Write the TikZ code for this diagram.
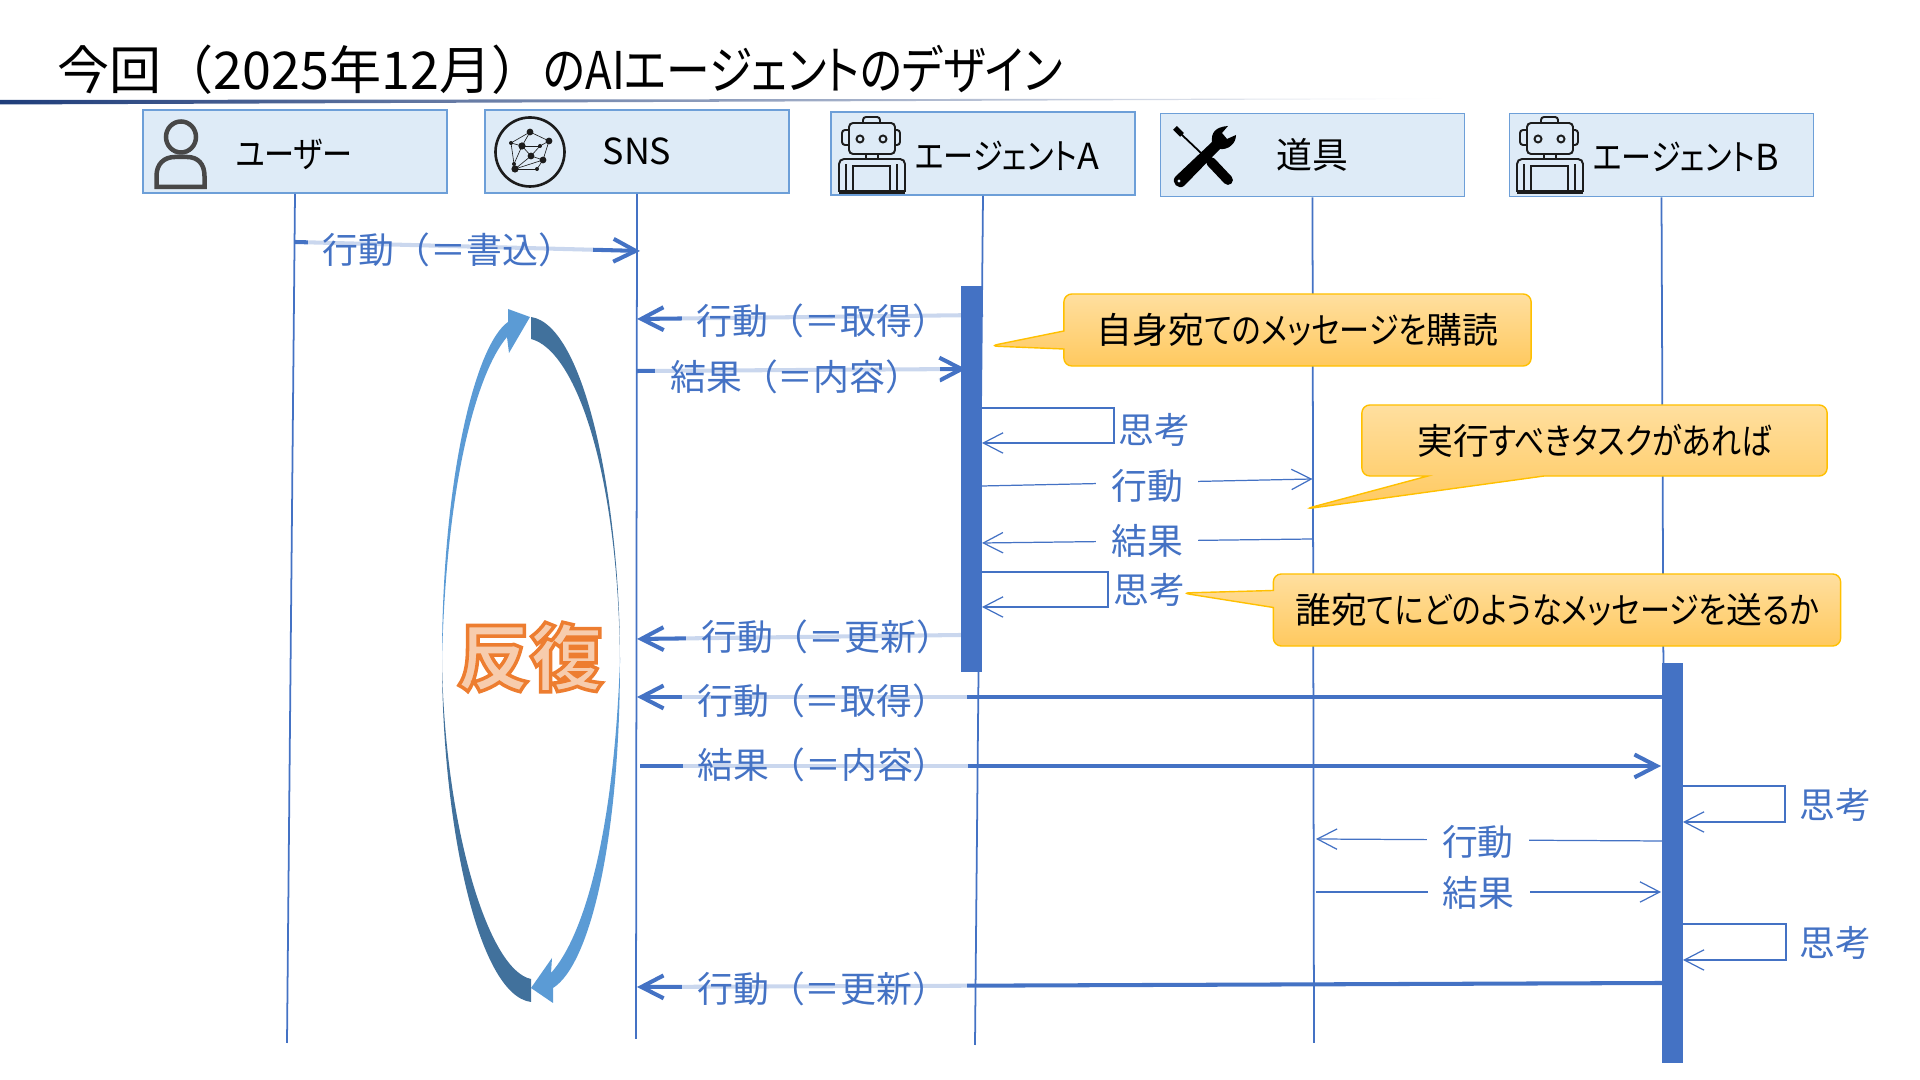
\documentclass[tikz,border=0pt]{standalone}
\usepackage{fontspec}
\usetikzlibrary{arrows.meta,shapes.callouts}
\setmainfont{Noto Sans CJK JP}
\newfontfamily\kanafont{Noto Sans CJK JP}[RawFeature={+palt}, FakeStretch=0.84]
\newcommand{\kn}[1]{{\kanafont #1}}
\definecolor{msgblue}{HTML}{4472C4}
\definecolor{boxfill}{HTML}{DEEBF7}
\definecolor{boxedge}{HTML}{6D9FD8}
\definecolor{iconink}{HTML}{1C1C1C}
\definecolor{loopfrom}{HTML}{5B9BD5}
\definecolor{loopback}{HTML}{41719C}
\definecolor{ruleblue}{HTML}{1F3D7A}
\definecolor{noteA}{HTML}{FFDF9F}
\definecolor{noteB}{HTML}{FFC95F}
\definecolor{noteline}{HTML}{FFC000}
\newcommand{\boxfont}{\fontsize{10.2pt}{12pt}\selectfont}
\newcommand{\outlined}[1]{\special{pdf:code q 2 Tr 1.0 w 0.93 0.49 0.19 RG 0.97 0.80 0.68 rg}#1\special{pdf:code Q}}
\tikzset{
  head/.style={draw=boxedge, fill=boxfill, line width=0.5pt, minimum width=3.04cm, minimum height=0.83cm, inner sep=0pt, font=\boxfont},
  headtxt/.style={inner sep=0pt, font=\boxfont},
  lifeline/.style={draw=msgblue, line width=0.5pt},
  actbar/.style={fill=msgblue, minimum width=0.21cm, inner sep=0pt},
  msg/.style={draw=msgblue, line width=1.15pt, -{Straight Barb[length=6.3pt,width=6.5pt]}},
  thinmsg/.style={draw=msgblue, line width=0.35pt, -{Straight Barb[length=5.6pt,width=5.8pt]}},
  selfmsg/.style={draw=msgblue, line width=0.5pt, -{Straight Barb[length=5.6pt,width=5.8pt,line width=0.35pt]}},
  msglbl/.style={fill=white, fill opacity=0.72, text opacity=1, text=msgblue, font=\boxfont, align=left, text width=2.55cm, inner xsep=0.15cm, inner ysep=0pt},
  gaplbl/.style={fill=white, text=msgblue, font=\boxfont, minimum width=1.02cm, inner xsep=0pt, inner ysep=0pt},
  steplbl/.style={text=msgblue, font=\boxfont, inner sep=0pt},
  note/.style={rectangle callout, top color=noteA, bottom color=noteB, draw=noteline, line width=0.4pt, rounded corners=0.08cm, inner sep=0pt, font=\boxfont},
  robot/.pic={
    \draw[iconink, line width=0.55pt, rounded corners=0.03cm] (31,11) -- (31,5) -- (48,5) -- (48,11);
    \draw[iconink, line width=0.55pt, rounded corners=0.04cm] (17,11) rectangle (63,42);
    \draw[iconink, line width=0.55pt, rounded corners=0.03cm] (17,18) -- (10,18) -- (10,33) -- (17,33);
    \draw[iconink, line width=0.55pt, rounded corners=0.03cm] (63,18) -- (68,18) -- (68,33) -- (63,33);
    \draw[iconink, line width=0.55pt] (28,27) circle (3.5) (51,27) circle (3.5);
    \draw[iconink, line width=0.55pt] (34,42) -- (34,47) (46,42) -- (46,47);
    \draw[iconink, line width=0.55pt, rounded corners=0.05cm] (7,80) -- (7,47) -- (73,47) -- (73,80);
    \draw[iconink, line width=0.55pt] (14,80) -- (14,52) (65,80) -- (65,52);
    \draw[iconink, line width=0.55pt] (21,80) -- (21,54) -- (58,54) -- (58,80);
    \draw[iconink, line width=0.9pt] (7,80) -- (73,80);
  },
  netball/.pic={
    \draw[iconink, line width=0.75pt] (40,40) circle (34.5);
    \foreach \nm/\px/\py in {a/40/20,b/59/29,c/53/48,d/47/57,e/25/57,f/24/52,g/21/31,h/32/34,i/50/34,j/41/44}
      \coordinate (\nm) at (\px,\py);
    \foreach \p/\q in {a/b,a/h,a/g,h/i,i/b,h/j,j/c,c/d,d/e,e/j,f/h,g/f,g/h,b/c,i/j,e/c}
      \draw[iconink, line width=0.18pt] (\p) -- (\q);
    \foreach \nm/\rr in {a/3.4,b/3.4,c/3.4,d/2,e/3.6,f/2,g/2,h/3.6,i/2,j/3.4}
      \fill[iconink] (\nm) circle (\rr);
  },
}
\begin{document}
\begin{tikzpicture}[x=0.01cm,y=-0.01cm]
\useasboundingbox (0,0) rectangle (1920,1080);
\node[anchor=west, inner sep=0pt, font=\fontsize{14.8pt}{16pt}\selectfont] (title) at (57,70) {今回（2025年12月）\kn{のAIエージェントのデザイン}};
\shade[left color=ruleblue, middle color=ruleblue!85!gray, right color=white] (0,100) -- (1445,98.5) -- (1445,99) -- (0,104.5) -- cycle;

\node[head] (user) at (295,151.5) {};
\node[head] (sns) at (637,151.5) {\raisebox{-1pt}{SNS}};
\node[head] (agentA) at (983,153.5) {};
\node[head] (tool) at (1312.5,155) {道具};
\node[head] (agentB) at (1661.5,155) {};
\node[headtxt] (userlbl) at (294,154) {\kn{ユーザー}};
\node[headtxt] (agentAlbl) at (1007,156) {\kn{エージェント}A};
\node[headtxt] (agentBlbl) at (1686,157) {\kn{エージェント}B};

\coordinate (userend) at (287,1043);
\coordinate (snsend) at (636,1039);
\coordinate (agentAend) at (975,1045);
\coordinate (toolend) at (1314,1043);
\coordinate (agentBend) at (1665,1050);
\draw[lifeline] (user.south) -- (userend);
\draw[lifeline] (sns.south) -- (snsend);
\draw[lifeline] (agentA.south) -- (agentAend);
\draw[lifeline] (tool.south) -- (toolend);
\draw[lifeline] (agentB.south) -- (agentBend);

% icons
\draw[gray!30!black!85, line width=1.28pt] (181,137) ellipse (15 and 15.5);
\draw[gray!30!black!85, line width=1.28pt] (156.5,187) -- (156.5,176) .. controls (156.5,164) and (164,157) .. (175,157) -- (187,157) .. controls (198,157) and (204.5,164) .. (204.5,176) -- (204.5,187) -- cycle;
\pic at (490,112) {netball};
\pic at (832,112) {robot};
\pic at (1510,112) {robot};
\begin{scope}[shift={(1165,118)}]
  \fill[black] (63,8) .. controls (50,9) and (46,15) .. (47,24) -- (10,59) .. controls (6,65) and (13,72) .. (19,68) -- (55,31) .. controls (63,32) and (71,26) .. (71,17) -- (62,21) -- (57,15) -- cycle;
  \fill[boxfill] (14,63) circle (1.7);
  \draw[black, line width=0.5pt] (16,16) -- (36,35);
  \draw[black, line width=1.5pt] (10,10) -- (17,17);
  \draw[black, line width=2.8pt, line cap=round] (46,44) -- (63,62);
\end{scope}

% repeat loop
\fill[loopfrom] (442,660) .. controls (442,480) and (475,345) .. (508,322) -- (508,309) -- (530,317) -- (509,353) -- (507,337) .. controls (475,375) and (446,490) .. (442,660) -- cycle;
\fill[loopback] (531,317) .. controls (585,325) and (620,500) .. (620,660) .. controls (618,470) and (575,350) .. (531,339) -- cycle;
\fill[loopfrom] (620,660) .. controls (620,840) and (590,965) .. (553,988) -- (553,1003) -- (531,988) -- (552,958) -- (551,973) .. controls (585,935) and (614,830) .. (620,660) -- cycle;
\fill[loopback] (531,1002) .. controls (477,995) and (442,820) .. (442,660) .. controls (444,820) and (487,970) .. (531,979) -- cycle;
\node[inner sep=0pt, font=\fontsize{20.8pt}{24pt}\selectfont\bfseries] (repeatlbl) at (530,657) {\outlined{反復}};

% messages
\draw[msg] (user.south |- 0,242) -- node[msglbl, pos=0.4505, yshift=-0.04cm] (m1) {行動（＝書込）} (640,251);
\draw[msg] (agentA.south |- 0,315) -- node[msglbl, pos=0.458, yshift=-0.04cm] (m2) {行動（＝取得）} (sns.south |- 0,319);
\draw[msg] (sns.south |- 0,371) -- node[msglbl, pos=0.489, yshift=-0.07cm] (m3) {結果（＝内容）} (966,369);
\draw[msg] (961,635) -- node[msglbl, pos=0.408] (m4) {行動（＝更新）} (sns.south |- 0,639);
\draw[msg] (1662,697) -- node[msglbl, pos=0.8167, yshift=-0.04cm] (m5) {行動（＝取得）} (637,697);
\draw[msg] (640,766) -- node[msglbl, pos=0.1815, yshift=0.01cm] (m6) {結果（＝内容）} (1661,766);
\draw[msg] (1662,983) -- node[msglbl, pos=0.8167, yshift=-0.03cm] (m7) {行動（＝更新）} (637,987);

\draw[thinmsg] (982,486) -- node[gaplbl, pos=0.5, yshift=-0.03cm] (a1) {行動} (tool.south |- 0,479);
\draw[thinmsg] (tool.south |- 0,539) -- node[gaplbl, pos=0.5] (a2) {結果} (982,543);
\draw[thinmsg] (1662,841) -- node[gaplbl, pos=0.532, yshift=-0.02cm] (b1) {行動} (1316,839);
\draw[thinmsg] (1316,892) -- node[gaplbl, pos=0.472, yshift=-0.01cm] (b2) {結果} (1661,892);

\node[steplbl] (t1) at (1154,430) {思考};
\node[steplbl] (t2) at (1149,590) {思考};
\node[steplbl] (t3) at (1835,805) {思考};
\node[steplbl] (t4) at (1835,943) {思考};
\draw[selfmsg] (982,408) -- (1114,408) -- (1114,443) -- (982,443);
\draw[selfmsg] (982,572) -- (1108,572) -- (1108,607) -- (982,607);
\draw[selfmsg] (1683,786) -- (1785,786) -- (1785,822) -- (1683,822);
\draw[selfmsg] (1683,924) -- (1786,924) -- (1786,960) -- (1683,960);

% activation bars
\node[actbar, minimum height=3.86cm] (barA) at (971.5,479) {};
\node[actbar, minimum height=4cm] (barB) at (1672.5,863) {};

% notes
\coordinate (tipA) at (990,346);
\coordinate (tipB) at (1305,509);
\coordinate (tipC) at (1182,593);
\node[note, minimum width=4.67cm, minimum height=0.72cm, callout absolute pointer={(tipA)}, callout pointer width=0.18cm] (noteA) at (1297.5,330) {自身宛\kn{てのメッセージを}購読};
\node[note, minimum width=4.65cm, minimum height=0.71cm, callout absolute pointer={(tipB)}, callout pointer width=1.16cm] (noteB) at (1594.5,440.5) {実行\kn{すべきタスクがあれば}};
\node[note, minimum width=5.67cm, minimum height=0.72cm, callout absolute pointer={(tipC)}, callout pointer width=0.17cm] (noteC) at (1557,610) {誰宛\kn{てにどのようなメッセージを}送\kn{るか}};
\end{tikzpicture}
\end{document}
